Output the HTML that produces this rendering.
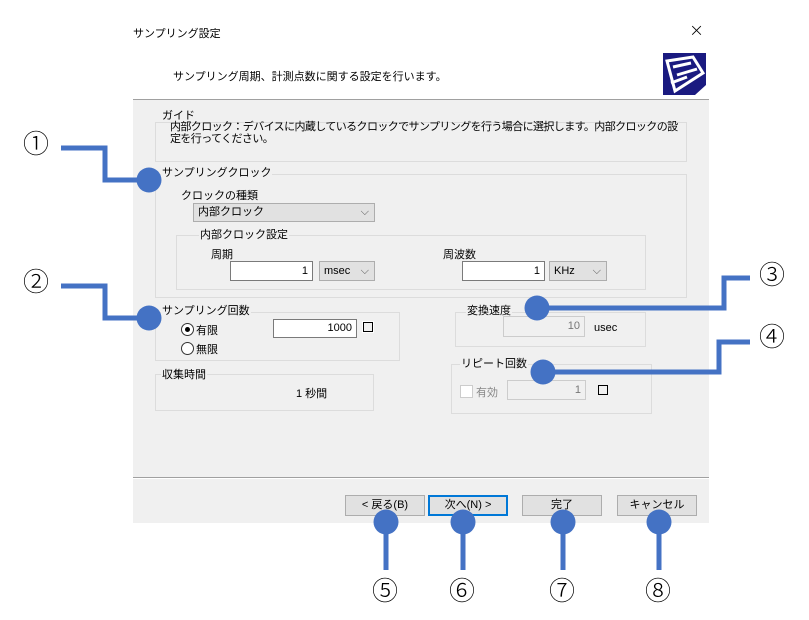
<!DOCTYPE html>
<html><head><meta charset="utf-8"><style>
body{margin:0;width:809px;height:620px;background:#fff;position:relative;overflow:hidden;font-family:"Liberation Sans","Noto Sans CJK JP",sans-serif;font-size:11px;color:#000}
.a{position:absolute;white-space:nowrap}
.g{position:absolute;border:1px solid #dcdcdc}
.lbl{position:absolute;background:#f0f0f0;padding:0 1px;font-size:11px;line-height:12px}
.in{position:absolute;background:#fff;border:1px solid #7a7a7a;text-align:right;box-sizing:border-box;padding-right:4px;font-size:11px}
.cb{position:absolute;background:#e1e1e1;border:1px solid #adadad;box-sizing:border-box;padding-left:4px;font-size:11px}
.btn{position:absolute;background:#e1e1e1;border:1px solid #adadad;box-sizing:border-box;text-align:center;font-size:11px;line-height:19px;height:21px;width:80px;top:495px}
.n{position:absolute;font-size:26px;line-height:26px;font-family:"Noto Sans CJK JP",sans-serif;font-weight:300}
</style></head><body>
<div class="a" style="left:133px;top:25px">サンプリング設定</div>
<div class="a" style="left:689px;top:20px;font-size:18px;font-weight:300;font-family:'DejaVu Sans',sans-serif">×</div>
<div class="a" style="left:173px;top:68px">サンプリング周期、計測点数に関する設定を行います。</div>
<svg class="a" style="left:663px;top:53px" width="43" height="42"><rect width="43" height="42" fill="#1a1a80"/><path d="M4 8 L30 4 L40 20 L12 38 Z" fill="none" stroke="#fff" stroke-width="3"/><path d="M10 14 L28 10 M14 22 L34 16 M8 30 L24 24" stroke="#fff" stroke-width="3"/><path d="M32 42 L43 32 L43 42 Z" fill="#fff"/></svg>
<div class="a" style="left:133px;top:99px;width:576px;height:423px;background:#f0f0f0;border-top:1px solid #a0a0a0"></div>
<div class="a" style="left:133px;top:477px;width:576px;height:1px;background:#a0a0a0"></div>
<div class="a" style="left:133px;top:478px;width:576px;height:1px;background:#fff"></div>

<div class="g" style="left:155px;top:122px;width:530px;height:38px"></div>
<div class="lbl" style="left:161px;top:110px">ガイド</div>
<div class="a" style="left:170px;top:121px;line-height:12px;letter-spacing:-0.6px">内部クロック：デバイスに内蔵しているクロックでサンプリングを行う場合に選択します。内部クロックの設<br>定を行ってください。</div>

<div class="g" style="left:155px;top:174px;width:530px;height:122px"></div>
<div class="lbl" style="left:161px;top:167px">サンプリングクロック</div>
<div class="a" style="left:181px;top:187px">クロックの種類</div>
<div class="cb" style="left:193px;top:203px;width:182px;height:19px;line-height:17px">内部クロック<span style="position:absolute;right:5px;color:#555">⌵</span></div>
<div class="g" style="left:176px;top:235px;width:468px;height:53px"></div>
<div class="lbl" style="left:199px;top:229px">内部クロック設定</div>
<div class="a" style="left:211px;top:246px">周期</div>
<div class="a" style="left:443px;top:246px">周波数</div>
<div class="in" style="left:230px;top:261px;width:83px;height:20px;line-height:18px">1</div>
<div class="cb" style="left:319px;top:261px;width:56px;height:20px;line-height:18px">msec<span style="position:absolute;right:5px;color:#555">⌵</span></div>
<div class="in" style="left:462px;top:261px;width:83px;height:20px;line-height:18px">1</div>
<div class="cb" style="left:549px;top:261px;width:58px;height:20px;line-height:18px">KHz<span style="position:absolute;right:5px;color:#555">⌵</span></div>

<div class="g" style="left:155px;top:312px;width:243px;height:47px"></div>
<div class="lbl" style="left:161px;top:305px">サンプリング回数</div>
<div class="a" style="left:181px;top:323px;width:11px;height:11px;border:1px solid #333;border-radius:50%;background:#fff"><div style="position:absolute;left:3px;top:3px;width:5px;height:5px;border-radius:50%;background:#000"></div></div>
<div class="a" style="left:196px;top:322px">有限</div>
<div class="a" style="left:181px;top:342px;width:11px;height:11px;border:1px solid #333;border-radius:50%;background:#fff"></div>
<div class="a" style="left:196px;top:341px">無限</div>
<div class="in" style="left:273px;top:319px;width:84px;height:19px;line-height:17px">1000</div>
<div class="a" style="left:363px;top:322px;width:8px;height:8px;border:1px solid #000;outline:1px solid #fff"></div>

<div class="g" style="left:155px;top:374px;width:217px;height:35px"></div>
<div class="lbl" style="left:161px;top:369px">収集時間</div>
<div class="a" style="left:296px;top:385px">1 秒間</div>

<div class="g" style="left:455px;top:312px;width:189px;height:33px"></div>
<div class="lbl" style="left:466px;top:305px">変換速度</div>
<div class="in" style="left:503px;top:316px;width:82px;height:21px;line-height:19px;background:#f0f0f0;border-color:#ccc;color:#777">10</div>
<div class="a" style="left:594px;top:322px">usec</div>

<div class="g" style="left:451px;top:364px;width:199px;height:48px"></div>
<div class="lbl" style="left:460px;top:358px">リピート回数</div>
<div class="a" style="left:460px;top:385px;width:11px;height:11px;border:1px solid #ccc;background:#fff"></div>
<div class="a" style="left:476px;top:384px;color:#888">有効</div>
<div class="in" style="left:507px;top:380px;width:79px;height:20px;line-height:18px;background:#f0f0f0;border-color:#ccc;color:#777">1</div>
<div class="a" style="left:598px;top:385px;width:8px;height:8px;border:1px solid #000"></div>

<div class="btn" style="left:345px">&lt; 戻る(B)</div>
<div class="btn" style="left:428px;border:2px solid #0078d7;line-height:17px">次へ(N) &gt;</div>
<div class="btn" style="left:522px">完了</div>
<div class="btn" style="left:617px">キャンセル</div>

<svg class="a" style="left:0;top:0" width="809" height="620">
<g fill="none" stroke="#4472c4" stroke-width="5">
<path d="M61 148 H105 V180 H149"/>
<path d="M61 286 H105 V318 H149"/>
<path d="M750 278 H724 V308 H537"/>
<path d="M750 342 H719 V372 H543"/>
<path d="M386 522 V570 M463 522 V570 M563 522 V570 M659 522 V570"/>
</g>
<g fill="#4472c4">
<circle cx="149" cy="180" r="12.5"/><circle cx="149" cy="318" r="12.5"/>
<circle cx="537" cy="308" r="12.5"/><circle cx="543" cy="372" r="12.5"/>
<circle cx="386" cy="522" r="12.5"/><circle cx="463" cy="522" r="12.5"/>
<circle cx="563" cy="522" r="12.5"/><circle cx="659" cy="522" r="12.5"/>
</g>
</svg>
<div class="n" style="left:23px;top:130px">①</div>
<div class="n" style="left:23px;top:268px">②</div>
<div class="n" style="left:759px;top:261px">③</div>
<div class="n" style="left:759px;top:323px">④</div>
<div class="n" style="left:372px;top:577px">⑤</div>
<div class="n" style="left:449px;top:577px">⑥</div>
<div class="n" style="left:549px;top:577px">⑦</div>
<div class="n" style="left:645px;top:577px">⑧</div>
</body></html>
